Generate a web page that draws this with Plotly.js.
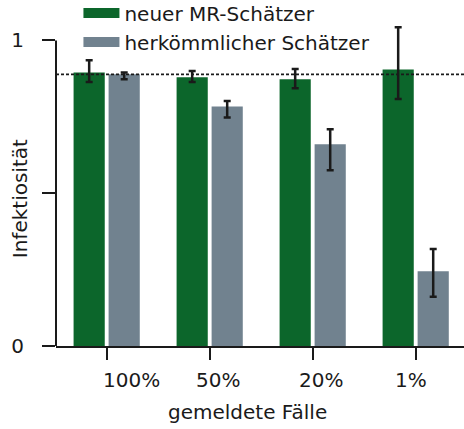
<!DOCTYPE html>
<html>
<head>
<meta charset="utf-8">
<script src="https://cdn.plot.ly/plotly-3.0.1.min.js"></script>
<style>html,body{margin:0;padding:0;background:#fff;}#chart{width:464px;height:429px;}</style>
</head>
<body>
<div id="chart"></div>
<script>
// ---- data ----
const categories = ["100%", "50%", "20%", "1%"];
const tickLabels = ["100%", "50%", "20%", "1%"];
const seriesNames = ["neuer MR-Schätzer", "herkömmlicher Schätzer"];
const newEstimator = [0.895, 0.879, 0.873, 0.905];
const newErrPlus = [0.040, 0.021, 0.033, 0.138];
const newErrMinus = [0.031, 0.015, 0.030, 0.097];
const oldEstimator = [0.889, 0.784, 0.660, 0.245];
const oldErrPlus = [0.006, 0.018, 0.049, 0.072];
const oldErrMinus = [0.016, 0.036, 0.085, 0.084];
const referenceLevel = 0.889;
const yTickVals = [0, 0.5, 1];
const yTickText = ["0", "", "1"];
const xTitle = "gemeldete Fälle";
const yTitle = "Infektiosität";

const GREEN = "#0c662b";
const GRAY = "#71828f";
const INK = "#1a1a1a";
const FONT = "DejaVu Sans, sans-serif";

const errStyle = {color: INK, thickness: 2.5, width: 3.5};

const traces = [
  {type: "bar", x: categories, y: newEstimator, name: seriesNames[0], marker: {color: GREEN}, showlegend: false,
   error_y: Object.assign({type: "data", symmetric: false, array: newErrPlus, arrayminus: newErrMinus}, errStyle)},
  {type: "bar", x: categories, y: oldEstimator, name: seriesNames[1], marker: {color: GRAY}, showlegend: false,
   error_y: Object.assign({type: "data", symmetric: false, array: oldErrPlus, arrayminus: oldErrMinus}, errStyle)},
  {type: "scatter", mode: "lines", x: [null], y: [null], name: seriesNames[0], line: {color: GREEN, width: 12}, hoverinfo: "skip"},
  {type: "scatter", mode: "lines", x: [null], y: [null], name: seriesNames[1], line: {color: GRAY, width: 12}, hoverinfo: "skip"}
];

const labelShift = [25, 8, 8, -5];

const layout = {
  width: 464, height: 429,
  margin: {l: 56, r: 0, t: 19, b: 83, autoexpand: false},
  paper_bgcolor: "#fff", plot_bgcolor: "#fff",
  font: {family: FONT, size: 20, color: INK},
  barmode: "group", bargap: 0.32, bargroupgap: 0.11,
  showlegend: true,
  legend: {x: 0.055, xanchor: "left", y: 1.078, yanchor: "top", bgcolor: "rgba(0,0,0,0)",
           itemwidth: 36, font: {family: FONT, size: 20, color: INK}, tracegroupgap: 0},
  xaxis: {type: "category", range: [-0.492, 3.469], showgrid: false, zeroline: false,
          showline: true, linecolor: INK, linewidth: 2,
          ticks: "outside", ticklen: 12, tickwidth: 2, tickcolor: INK,
          tickvals: categories, ticktext: tickLabels, showticklabels: false},
  yaxis: {range: [0, 1.07], showgrid: false, zeroline: false, showline: false,
          ticks: "outside", ticklen: 13, tickwidth: 2, tickcolor: INK,
          tickvals: yTickVals, ticktext: yTickText, ticklabelstandoff: 14,
          tickfont: {family: FONT, size: 20, color: INK}},
  shapes: [
    {type: "line", xref: "paper", x0: 0, x1: 0, yref: "y", y0: 0, y1: 1, line: {color: INK, width: 2}},
    {type: "line", xref: "paper", x0: 0, x1: 1, yref: "y", y0: referenceLevel, y1: referenceLevel,
     line: {color: INK, width: 1.8, dash: "3px,2px"}, layer: "above"}
  ],
  annotations: tickLabels.map((t, i) => ({
    text: t, x: categories[i], xref: "x", y: 0, yref: "paper", yanchor: "middle", yshift: -34,
    xshift: labelShift[i], showarrow: false, font: {family: FONT, size: 20, color: INK}
  })).concat([{
    text: xTitle, xref: "paper", x: (247.5 - 56) / 408, xanchor: "center",
    yref: "paper", y: 0, yanchor: "middle", yshift: -66, showarrow: false,
    font: {family: FONT, size: 20, color: INK}
  }, {
    text: yTitle, textangle: -90, xref: "paper", x: 0, xanchor: "center", xshift: -36.5,
    yref: "y", y: 0.482, yanchor: "middle", showarrow: false,
    font: {family: FONT, size: 20, color: INK}
  }])
};

Plotly.newPlot("chart", traces, layout, {displayModeBar: false, staticPlot: true});
</script>
</body>
</html>
